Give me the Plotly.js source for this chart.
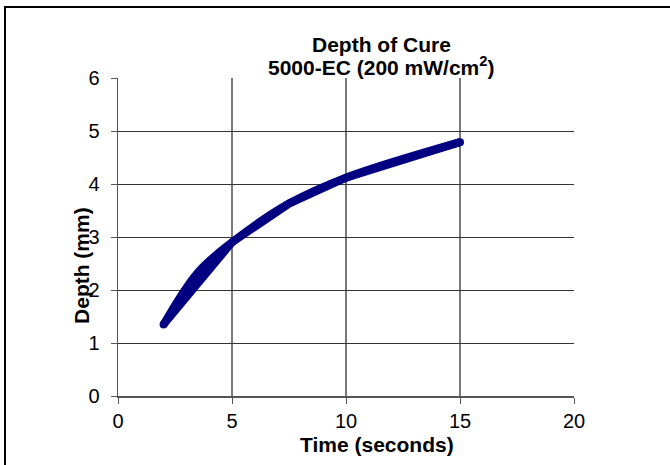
<!DOCTYPE html>
<html>
<head>
<meta charset="utf-8">
<script src="https://cdn.plot.ly/plotly-3.0.1.min.js"></script>
<style>
  html, body { margin: 0; padding: 0; background: #fff; }
  #wrap { position: relative; width: 670px; height: 465px; overflow: hidden; }
  #frame { position: absolute; left: 4px; top: 6px; width: 700px; height: 500px;
           border-left: 2px solid #000; border-top: 2px solid #000; pointer-events: none; }
  #chart { position: absolute; left: 0; top: 0; width: 670px; height: 465px; }
</style>
</head>
<body>
<div id="wrap">
  <div id="chart"></div>
  <div id="frame"></div>
</div>
<script>
// Data
const timeSeconds = [2, 5, 7.5, 10, 15];
const depthMm     = [1.35, 2.9, 3.63, 4.12, 4.79];
// smoothed overlay as drawn in the reference (bulges above the straight part near the start)
const timeSmooth  = [2, 3.5, 5, 7.5, 10, 15];
const depthSmooth = [1.35, 2.33, 2.9, 3.63, 4.12, 4.79];
const xTicks = [0, 5, 10, 15, 20];
const yTicks = [0, 1, 2, 3, 4, 5, 6];
const titleLines = ['Depth of Cure', '5000-EC (200 mW/cm<sup>2</sup>)'];
const xTitle = 'Time (seconds)';
const yTitle = 'Depth (mm)';

const lineColor = '#000080';
const traces = [
  { x: timeSeconds, y: depthMm, mode: 'lines+markers', type: 'scatter',
    line: { color: lineColor, width: 8, shape: 'linear' },
    marker: { color: lineColor, opacity: 1, line: { width: 0 },
              size: timeSeconds.map((_, i) => (i === 0 || i === timeSeconds.length - 1) ? 8 : 0) },
    hoverinfo: 'skip' },
  { x: timeSmooth, y: depthSmooth, mode: 'lines', type: 'scatter',
    line: { color: lineColor, width: 8, shape: 'spline', smoothing: 1 }, hoverinfo: 'skip' }
];

const font = { family: 'Liberation Sans, Arial, sans-serif', color: '#000' };
const f = (s) => Object.assign({ size: s }, font);

const layout = {
  width: 670, height: 465,
  margin: { l: 118, r: 96, t: 78, b: 69 },
  paper_bgcolor: '#fff', plot_bgcolor: '#fff',
  showlegend: false,
  font: f(20),
  xaxis: {
    range: [0, 20], tickvals: xTicks, ticktext: xTicks.map(String),
    showgrid: true, gridcolor: '#7a7a7a', gridwidth: 1.5,
    showline: true, linecolor: '#555', linewidth: 1.5, mirror: false,
    ticks: 'outside', ticklen: 6, tickcolor: '#555',
    zeroline: false, tickfont: f(20), ticklabelstandoff: 0
  },
  yaxis: {
    range: [0, 6], tickvals: yTicks, ticktext: yTicks.map(String),
    showgrid: true, gridcolor: '#333', gridwidth: 1,
    showline: true, linecolor: '#555', linewidth: 1.5,
    ticks: 'outside', ticklen: 6, tickcolor: '#555',
    zeroline: false, tickfont: f(20), ticklabelstandoff: 7
  },
  annotations: [
    { text: '<b>' + titleLines[0] + '</b>', xref: 'paper', yref: 'paper',
      x: 0.577, y: 1.105, xanchor: 'center', yanchor: 'middle', showarrow: false, font: f(21) },
    { text: '<b>' + titleLines[1] + '</b>', xref: 'paper', yref: 'paper',
      x: 0.577, y: 1.039, xanchor: 'center', yanchor: 'middle', showarrow: false, font: f(21) },
    { text: '<b>' + xTitle + '</b>', xref: 'paper', yref: 'paper',
      x: 0.569, y: -0.152, xanchor: 'center', yanchor: 'middle', showarrow: false, font: f(21) },
    { text: '<b>' + yTitle + '</b>', xref: 'paper', yref: 'paper',
      x: -0.079, y: 0.412, xanchor: 'center', yanchor: 'middle', textangle: -90,
      showarrow: false, font: f(21) }
  ]
};

Plotly.newPlot('chart', traces, layout, { staticPlot: true, displayModeBar: false });
</script>
</body>
</html>
